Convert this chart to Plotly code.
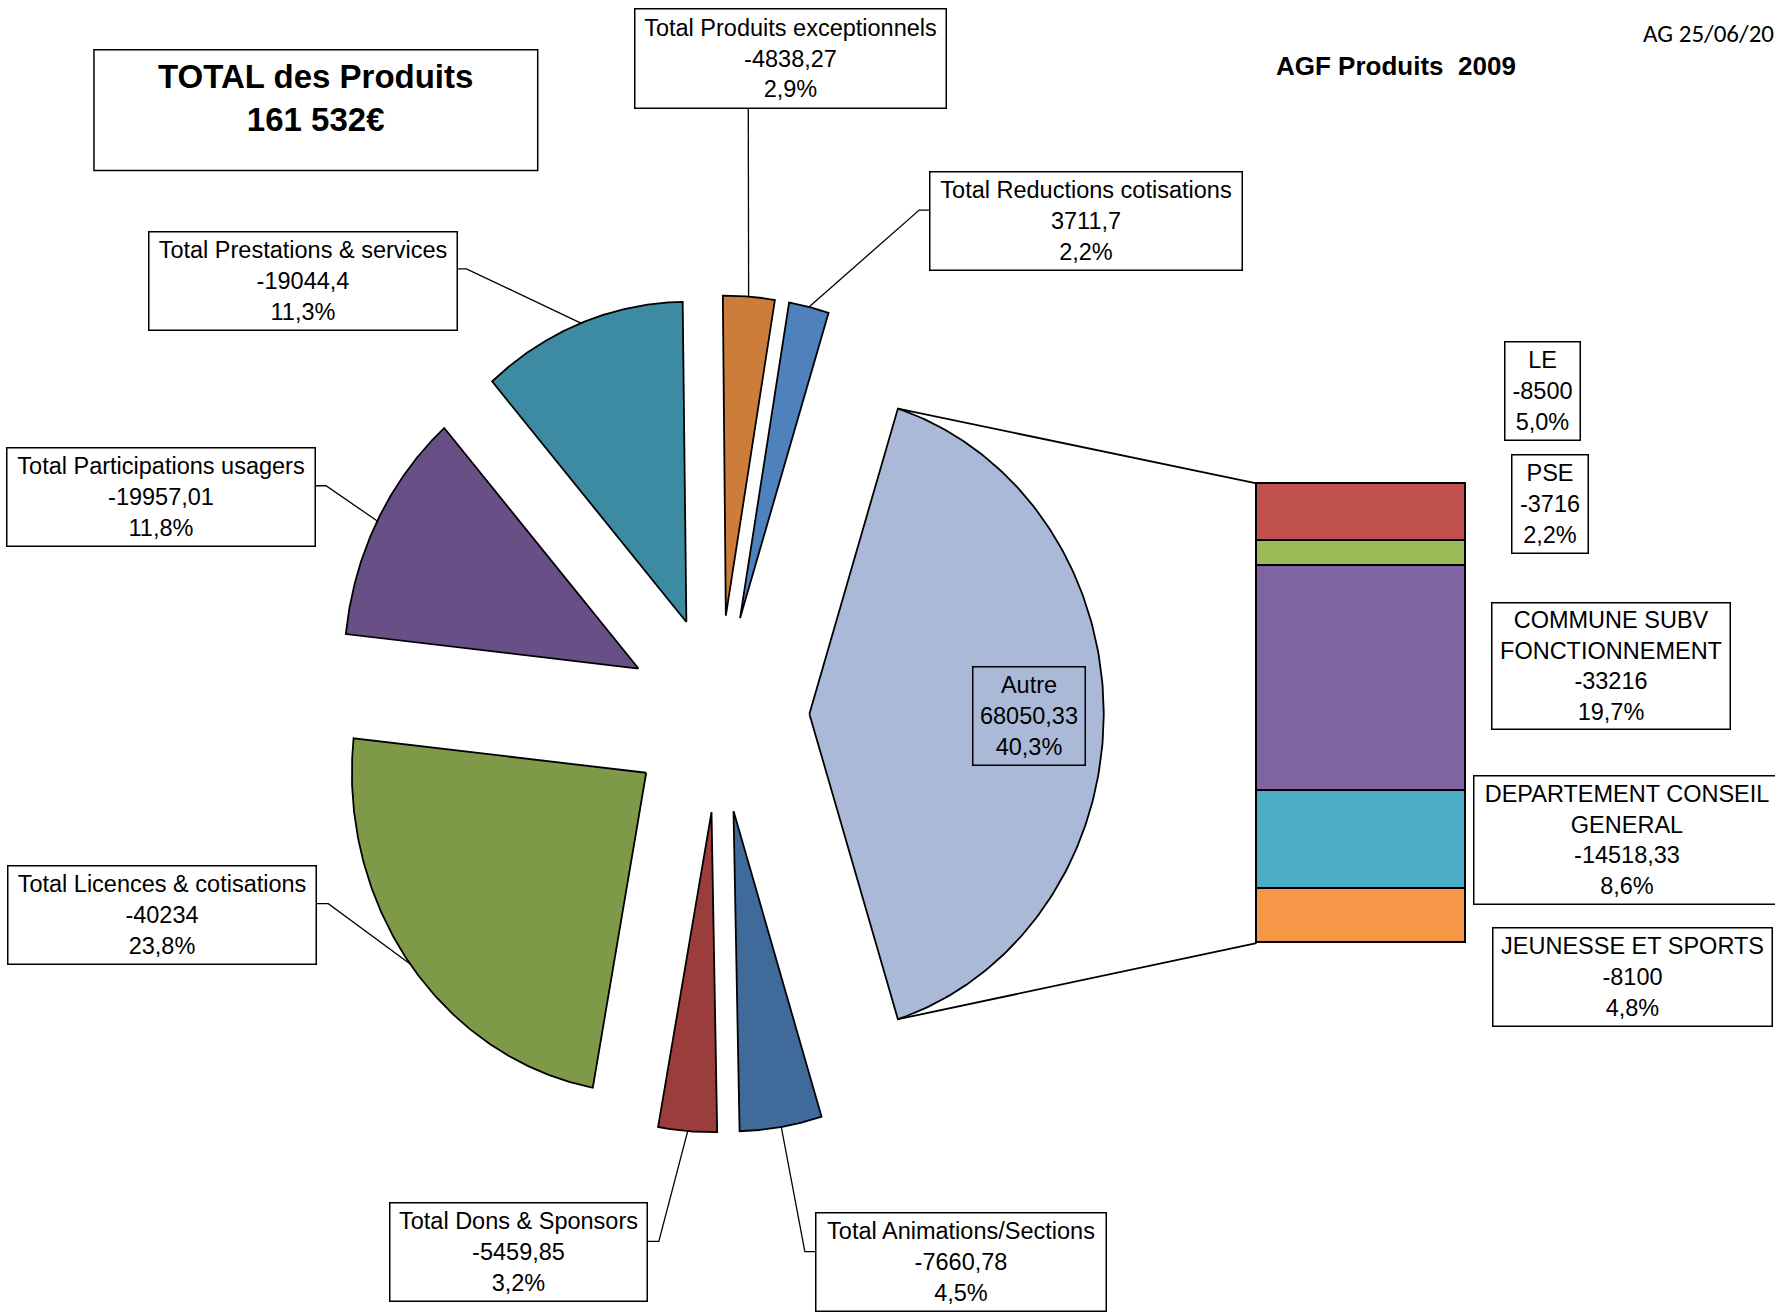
import numpy as np
import plotly.graph_objects as go

# ---------------- data ----------------
pie_labels = ["Autre", "Total Animations/Sections", "Total Dons & Sponsors",
              "Total Licences & cotisations", "Total Participations usagers",
              "Total Prestations & services", "Total Produits exceptionnels",
              "Total Reductions cotisations"]
pie_values = [68050.33, -7660.78, -5459.85, -40234, -19957.01, -19044.4, -4838.27, 3711.7]
pie_colors = ["#AAB9D7", "#3F6A9A", "#9B3D3D", "#7E9A48", "#684F86", "#3C8BA3", "#CC7D39", "#4F81BD"]

bar_labels = ["JEUNESSE ET SPORTS", "DEPARTEMENT CONSEIL<br>GENERAL",
              "COMMUNE SUBV<br>FONCTIONNEMENT", "PSE", "LE"]
bar_values = [-8100, -14518.33, -33216, -3716, -8500]
bar_colors = ["#F79646", "#4BACC6", "#8064A2", "#9BBB59", "#C0504D"]

title_total = "TOTAL des Produits<br>161 532€"
title_main = "AGF Produits  2009"
date_text = "AG 25/06/2010"

# ---------------- helpers ----------------
def fr_num(v):
    s = ("%.2f" % v).rstrip("0").rstrip(".")
    return s.replace(".", ",")

def fr_pct(p):
    return ("%.1f%%" % p).replace(".", ",")

W, H = 1568.0, 1165.0          # working coordinate system (scaled to page)
FONT = "Liberation Sans, Arial, sans-serif"
FS = 23.5

# pie geometry (working units)
CX, CY, R, EXPL, K = 635.0, 632.0, 260.0, 80.0, 1.09
# bar geometry (working units)
BX0, BX1, BY0, BY1 = 1110.0, 1295.0, 428.0, 835.0
PAD = 5.0  # extra room around the bar so its outline is not clipped

absv = np.abs(np.array(pie_values, dtype=float))
total = absv.sum()
fr = absv / total
pcts = 100 * fr
cum = fr[0] * 180.0 - 360.0 * np.concatenate([[0.0], np.cumsum(fr)])

fig = go.Figure()

def pt(ox, oy, rr, ang):
    a = np.radians(ang)
    return ox + rr * np.cos(a), oy - K * rr * np.sin(a)

arc_mid = []
tips = []
for i in range(len(pie_values)):
    a0, a1 = cum[i], cum[i + 1]
    mid = (a0 + a1) / 2
    ox, oy = pt(CX, CY, EXPL, mid)
    th = np.linspace(a0, a1, 160)
    ax_, ay_ = pt(ox, oy, R, th)
    xs = np.concatenate([[ox], ax_, [ox]])
    ys = np.concatenate([[oy], ay_, [oy]])
    fig.add_trace(go.Scatter(x=xs, y=ys, mode="lines", fill="toself",
                             fillcolor=pie_colors[i],
                             line=dict(color="black", width=1.8),
                             hoverinfo="skip", showlegend=False,
                             xaxis="x", yaxis="y"))
    arc_mid.append(pt(ox, oy, R, mid))
    tips.append((pt(ox, oy, R, a0), pt(ox, oy, R, a1)))

# connectors from "Autre" slice to the bar
(t0x, t0y), (t1x, t1y) = tips[0]
fig.add_trace(go.Scatter(x=[t0x, BX0], y=[t0y, BY0], mode="lines",
                         line=dict(color="black", width=1.8), hoverinfo="skip",
                         showlegend=False, xaxis="x", yaxis="y"))
fig.add_trace(go.Scatter(x=[t1x, BX0], y=[t1y, BY1], mode="lines",
                         line=dict(color="black", width=1.8), hoverinfo="skip",
                         showlegend=False, xaxis="x", yaxis="y"))

# stacked bar (breakdown of "Autre")
bar_abs = np.abs(np.array(bar_values, dtype=float))
bar_sum = bar_abs.sum()
for i in range(len(bar_values)):
    fig.add_trace(go.Bar(x=[0], y=[bar_abs[i]], width=1.0,
                         marker=dict(color=bar_colors[i], line=dict(color="black", width=1.8)),
                         hoverinfo="skip", showlegend=False,
                         xaxis="x2", yaxis="y2"))

# label layout: (center x, center y, width px, height px, leader path before arc point)
pie_label_pos = {
    0: (909, 634, 111, 97, None),
    1: (848.5, 1117.5, 289, 97, [(721, 1108), (711, 1108)]),
    2: (458, 1108.5, 256, 97, [(571, 1099), (582, 1099)]),
    3: (143.5, 810, 307, 97, [(279, 800), (290, 800)]),
    4: (142.5, 440, 307, 97, [(278, 430), (288, 430)]),
    5: (267.5, 249, 307, 97, [(403, 238), (412, 238)]),
    6: (698, 51.5, 310, 98, [(661, 95)]),
    7: (959.5, 196, 311, 97, [(822, 186), (812, 186)]),
}

annotations = []
for i, lab in enumerate(pie_labels):
    cx, cy, bw, bh, path = pie_label_pos[i]
    if path is not None:
        mx, my = arc_mid[i]
        xs = [p[0] for p in path] + [mx]
        ys = [p[1] for p in path] + [my]
        fig.add_trace(go.Scatter(x=xs, y=ys, mode="lines",
                                 line=dict(color="black", width=1.3),
                                 hoverinfo="skip", showlegend=False,
                                 xaxis="x", yaxis="y"))
    annotations.append(dict(
        x=cx, y=cy, xref="x", yref="y", xanchor="center", yanchor="middle",
        text=f"{lab}<br>{fr_num(pie_values[i])}<br>{fr_pct(pcts[i])}",
        showarrow=False, align="center", width=bw, height=bh,
        bordercolor="black", borderwidth=1.5, borderpad=0,
        bgcolor="rgba(0,0,0,0)" if i == 0 else "white",
        font=dict(family=FONT, size=FS, color="black")))

bar_label_pos = [
    (1442, 864.5, 278, 97),
    (1437.5, 744, 305, 127),
    (1423.5, 589.5, 237, 125),
    (1369, 446, 75, 97),
    (1362.5, 346, 74, 97),
]
for i, lab in enumerate(bar_labels):
    cx, cy, bw, bh = bar_label_pos[i]
    annotations.append(dict(
        x=cx, y=cy, xref="x", yref="y", xanchor="center", yanchor="middle",
        text=f"{lab}<br>{fr_num(bar_values[i])}<br>{fr_pct(100 * bar_abs[i] / total)}",
        showarrow=False, align="center", width=bw, height=bh,
        bordercolor="black", borderwidth=1.5, borderpad=0, bgcolor="white",
        font=dict(family=FONT, size=FS, color="black")))

# titles
annotations.append(dict(x=279, y=86.5, xref="x", yref="y", xanchor="center", yanchor="middle",
                        text=f"<b>{title_total}</b>", showarrow=False, align="center",
                        font=dict(family=FONT, size=33, color="black")))
annotations.append(dict(x=1233.5, y=58, xref="x", yref="y", xanchor="center", yanchor="middle",
                        text=f"<b>{title_main}</b>", showarrow=False,
                        font=dict(family=FONT, size=26, color="black")))
annotations.append(dict(x=1450, y=30, xref="x", yref="y", xanchor="left", yanchor="middle",
                        text=date_text, showarrow=False,
                        font=dict(family="Carlito, Lato, sans-serif", size=25, color="black")))

shapes = [dict(type="rect", xref="x", yref="y", x0=83, x1=475, y0=44, y1=151,
               line=dict(color="black", width=1.5), fillcolor="rgba(0,0,0,0)")]

# bar axes with a little padding so outlines are not clipped
bw_units = BX1 - BX0
bh_units = BY1 - BY0
xr_pad = PAD / bw_units
yr_pad = PAD / bh_units * bar_sum

fig.update_layout(
    width=1775, height=1316,
    margin=dict(l=0, r=0, t=0, b=0),
    paper_bgcolor="white", plot_bgcolor="rgba(0,0,0,0)",
    barmode="stack", bargap=0,
    showlegend=False,
    xaxis=dict(range=[0, W], domain=[0, 1], visible=False, fixedrange=True),
    yaxis=dict(range=[H, 0], domain=[0, 1], visible=False, fixedrange=True),
    xaxis2=dict(range=[-0.5 - xr_pad, 0.5 + xr_pad],
                domain=[(BX0 - PAD) / W, (BX1 + PAD) / W], visible=False,
                anchor="y2", fixedrange=True),
    yaxis2=dict(range=[-yr_pad, bar_sum + yr_pad],
                domain=[1 - (BY1 + PAD) / H, 1 - (BY0 - PAD) / H],
                visible=False, anchor="x2", fixedrange=True),
    annotations=annotations,
    shapes=shapes,
)

fig.write_html("out.html", config={"displayModeBar": False},
               post_script="document.body.style.margin='0';document.body.style.overflow='hidden';")
